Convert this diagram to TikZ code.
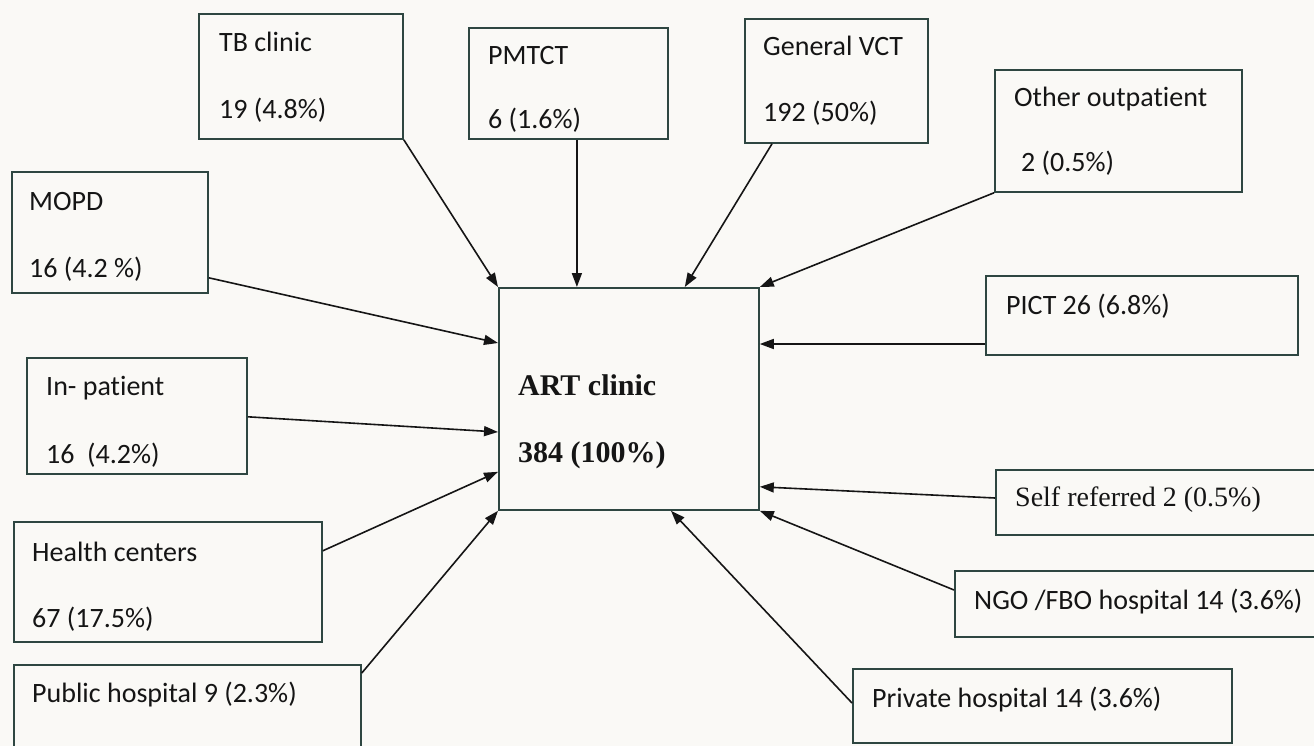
\documentclass[tikz,border=0pt]{standalone}
\usepackage{fontspec}
\setmainfont{Carlito}[Ligatures={NoCommon}]
\newfontfamily\timesfont{Liberation Serif}
\usetikzlibrary{arrows.meta,calc}
\definecolor{paper}{HTML}{FAF9F6}
\definecolor{frame}{HTML}{2E4641}
\definecolor{ink}{HTML}{151515}
\tikzset{
  srcbox/.style={draw=frame, line width=1.8pt, fill=none, rectangle, inner sep=0pt, anchor=north west},
  lbl/.style={anchor=base west, inner sep=0pt, text=ink, font=\fontsize{28}{30}\selectfont},
  serif/.style={lbl, font=\timesfont\fontsize{28}{30}\selectfont},
  bigserif/.style={lbl, font=\timesfont\bfseries\fontsize{30}{32}\selectfont},
  flow/.style={draw=ink, line width=1.6pt, -{Triangle[length=14pt,width=10pt]}}
}
\begin{document}
\begin{tikzpicture}[x=1pt,y=-1pt]
  \useasboundingbox (0,0) rectangle (1314,746);
  \fill[paper] (0,0) rectangle (1314,746);

  % source boxes (top-left corner, size)
  \node[srcbox, minimum width=204pt, minimum height=125pt] (tb)    at (198,13)  {};
  \node[srcbox, minimum width=199pt, minimum height=111pt] (pmtct) at (468,27)  {};
  \node[srcbox, minimum width=183pt, minimum height=124pt] (gvct)  at (744,18)  {};
  \node[srcbox, minimum width=247pt, minimum height=122pt] (other) at (994,69)  {};
  \node[srcbox, minimum width=196pt, minimum height=121pt] (mopd)  at (11,171)  {};
  \node[srcbox, minimum width=312pt, minimum height=79pt]  (pict)  at (985,275) {};
  \node[srcbox, minimum width=220pt, minimum height=116pt] (inp)   at (26,357)  {};
  \node[srcbox, minimum width=308pt, minimum height=120pt] (hc)    at (13,521)  {};
  \node[srcbox, minimum width=330pt, minimum height=65pt]  (self)  at (995,469) {};
  \node[srcbox, minimum width=347pt, minimum height=100pt] (pub)   at (13,664)  {};
  \node[srcbox, minimum width=370pt, minimum height=66pt]  (ngo)   at (954,570) {};
  \node[srcbox, minimum width=379pt, minimum height=74pt]  (priv)  at (852,668) {};

  % central box
  \node[srcbox, minimum width=260pt, minimum height=222pt] (art) at (498,287) {};

  % box texts (positions are baselines)
  \node[lbl] (tbA)    at (219,52)   {TB clinic};
  \node[lbl] (tbB)    at (219,119)  {19 (4.8\%)};
  \node[lbl] (pmA)    at (488,65)   {PMTCT};
  \node[lbl] (pmB)    at (488,129)  {6 (1.6\%)};
  \node[lbl] (gvA)    at (763,56)   {General VCT};
  \node[lbl] (gvB)    at (763,122)  {192 (50\%)};
  \node[lbl] (otA)    at (1014,107) {Other outpatient};
  \node[lbl] (otB)    at (1021,172) {2 (0.5\%)};
  \node[lbl] (moA)    at (29,211)   {MOPD};
  \node[lbl] (moB)    at (29,277)   {16 (4.2 \%)};
  \node[lbl] (piA)    at (1006,314) {PICT 26 (6.8\%)};
  \node[lbl] (inA)    at (46,395)   {In- patient};
  \node[lbl] (inB)    at (46,463)   {16\ \ (4.2\%)};
  \node[lbl] (hcA)    at (32,561)   {Health centers};
  \node[lbl] (hcB)    at (32,627)   {67 (17.5\%)};
  \node[serif] (seA)  at (1015,506) {Self referred 2 (0.5\%)};
  \node[lbl] (puA)    at (32,702)   {Public hospital 9 (2.3\%)};
  \node[lbl] (ngA)    at (974,609)  {NGO /FBO hospital 14 (3.6\%)};
  \node[lbl] (prA)    at (872,707)  {Private hospital 14 (3.6\%)};
  \node[bigserif] (arA) at (518,395) {ART clinic};
  \node[bigserif] (arB) at (518,462) {384 (100\%)};

  % referral flows into the ART clinic
  \draw[flow] (tb.south east) -- (art.north west);
  \draw[flow] ([xshift=8.5pt]pmtct.south) -- ([xshift=8.5pt]pmtct.south |- art.north);
  \draw[flow] ([xshift=28pt]gvct.south west) -- ([xshift=-75pt]art.north east);
  \draw[flow] (other.south west) -- (art.north east);
  \draw[flow] ([yshift=16pt]mopd.south east) -- ([yshift=-56pt]art.north west);
  \draw[flow] ([yshift=58pt]inp.south east) -- ([yshift=-145pt]art.north west);
  \draw[flow] ([yshift=92pt]hc.south east) -- ([yshift=39pt]art.south west);
  \draw[flow] ([yshift=-9pt]pub.north east) -- (art.south west);
  \draw[flow] ([yshift=-69pt]pict.north west) coordinate (pictout) -- (pictout -| art.east);
  \draw[flow] ([yshift=-29pt]self.north west) -- ([yshift=24pt]art.south east);
  \draw[flow] ([yshift=-20pt]ngo.north west) -- (art.south east);
  \draw[flow] ([yshift=-35pt]priv.north west) -- ([xshift=173pt]art.south west);
\end{tikzpicture}
\end{document}
